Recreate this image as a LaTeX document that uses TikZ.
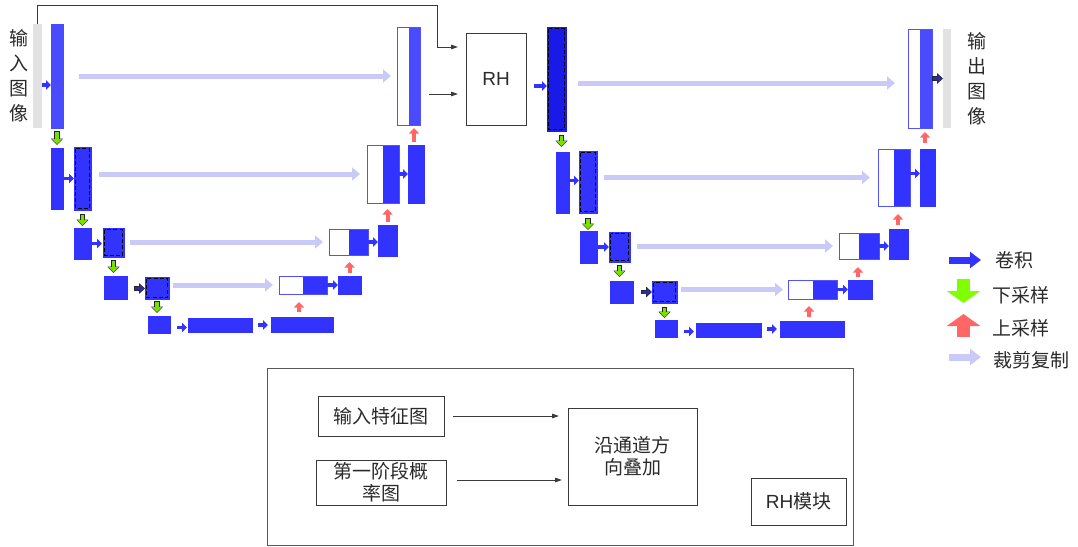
\documentclass[tikz,border=0pt]{standalone}
\usepackage{fontspec}
\newfontfamily\cjk{Noto Sans CJK SC}
\newfontfamily\lat{Liberation Sans}
\usetikzlibrary{arrows.meta,calc}
\definecolor{blu}{HTML}{3333FF}
\definecolor{blulight}{HTML}{4A4AFF}
\definecolor{bludark}{HTML}{1A1AE8}
\definecolor{navy}{HTML}{2C2CA8}
\definecolor{grn}{HTML}{77E000}
\definecolor{grnleg}{HTML}{80FF00}
\definecolor{redarr}{HTML}{FF6666}
\definecolor{cpy}{HTML}{CACAF8}
\definecolor{gbar}{HTML}{E2E2E2}
\definecolor{lnc}{HTML}{3A3A3A}
\definecolor{txt}{HTML}{2A2A2A}
\newcommand{\mkblk}[6]{\node[#6, minimum width={(#4-#2)*1pt}, minimum height={(#5-#3)*1pt}, anchor=north west] (#1) at (#2,#3) {};}
\tikzset{
  blk/.style={rectangle, inner sep=0pt, outer sep=0pt, fill=blu, draw=blu, line width=0.5pt},
  dblk/.style={blk, path picture={\draw[black, line width=0.8pt, dash pattern=on 4pt off 2.2pt]
     ([shift={(1.6pt,-1.6pt)}]path picture bounding box.north west) rectangle
     ([shift={(-1.6pt,1.6pt)}]path picture bounding box.south east);}},
  cblk/.style={rectangle, inner sep=0pt, outer sep=0pt, fill=white, draw=blu!85!white, line width=0.9pt,
     path picture={\fill[#1] (path picture bounding box.north) rectangle (path picture bounding box.south east);}},
  cblk/.default=blu,
  gbarsty/.style={rectangle, inner sep=0pt, outer sep=0pt, fill=gbar, draw=none},
  conv/.style={draw=blu, line width=3.8pt, -{Triangle[length=5pt,width=9.5pt]}},
  dconv/.style={draw=navy, line width=3pt, shorten >=0.9pt, shorten <=0.9pt, -{Triangle[length=4.5pt,width=8pt]},
     preaction={draw=black!85, line width=4.6pt, shorten >=0pt, shorten <=0pt, -{Triangle[length=6pt,width=10.5pt]}}},
  dnarr/.style={draw=grn, line width=3.6pt, shorten >=0.9pt, shorten <=0.9pt, -{Triangle[length=5pt,width=9.5pt]},
     preaction={draw=black!85, line width=5.2pt, shorten >=0pt, shorten <=0pt, -{Triangle[length=6.5pt,width=12pt]}}},
  uparr/.style={draw=redarr, line width=4pt, -{Triangle[length=5.5pt,width=10pt]}},
  cpyarr/.style={draw=cpy, line width=5pt, -{Triangle[length=8pt,width=13pt]}},
  ln/.style={draw=lnc, line width=0.8pt, -{Triangle[length=7pt,width=4.5pt]}},
  bx/.style={draw=lnc, line width=0.8pt, rectangle, inner sep=0pt, outer sep=0pt, fill=white, text=txt},
  lbl/.style={font=\cjk\fontsize{19}{25}\selectfont, text=txt, inner sep=0pt},
}
\begin{document}
\begin{tikzpicture}[x=1pt,y=-1pt]
\useasboundingbox (0,0) rectangle (1078,546);
% ---------- left U-net ----------
\mkblk{gL}{33}{24}{42}{128}{gbarsty}
\mkblk{L1a}{51}{24}{63}{128}{blk, fill=blulight, draw=blulight}
\mkblk{LC1}{397}{27}{420}{125}{cblk=blulight}
\mkblk{L2a}{51}{148}{63}{209}{blk}
\mkblk{L2b}{74}{147}{91}{210}{dblk}
\mkblk{LC2}{367}{145}{399}{203}{cblk}
\mkblk{L2c}{408}{145}{424}{203}{blk}
\mkblk{L3a}{74}{228}{91}{259}{blk}
\mkblk{L3b}{103}{228}{124}{257}{dblk}
\mkblk{LC3}{329}{229}{368}{255}{cblk}
\mkblk{L3c}{378}{225}{397}{256}{blk}
\mkblk{L4a}{104}{276}{127}{299}{blk}
\mkblk{L4b}{145}{277}{169}{299}{dblk}
\mkblk{LC4}{279}{276}{327}{294}{cblk}
\mkblk{L4c}{338}{276}{361}{294}{blk}
\mkblk{L5a}{148}{316}{170}{333}{blk}
\mkblk{L5b}{188}{318}{252}{332}{blk}
\mkblk{L5c}{271}{317}{333}{332}{blk}
% RH box
\node[bx, minimum width=60pt, minimum height=92pt, anchor=north west, font=\lat\fontsize{19}{22}\selectfont] (RH) at (466,33) {RH};
% ---------- right U-net ----------
\mkblk{R1a}{547}{27}{566}{131}{dblk, fill=bludark, draw=bludark}
\mkblk{RC1}{908}{29}{932}{128}{cblk=blulight}
\mkblk{gR}{943}{29}{951}{128}{gbarsty}
\mkblk{R2a}{556}{152}{569}{213}{blk}
\mkblk{R2b}{579}{151}{597}{213}{dblk}
\mkblk{RC2}{878}{149}{910}{206}{cblk}
\mkblk{R2c}{920}{149}{935}{206}{blk}
\mkblk{R3a}{580}{231}{597}{263}{blk}
\mkblk{R3b}{609}{232}{630}{262}{dblk}
\mkblk{RC3}{839}{233}{879}{259}{cblk}
\mkblk{R3c}{889}{229}{908}{259}{blk}
\mkblk{R4a}{610}{281}{633}{303}{blk}
\mkblk{R4b}{652}{281}{677}{303}{dblk}
\mkblk{RC4}{788}{280}{837}{299}{cblk}
\mkblk{R4c}{848}{280}{872}{299}{blk}
\mkblk{R5a}{655}{320}{677}{337}{blk}
\mkblk{R5b}{696}{323}{761}{337}{blk}
\mkblk{R5c}{780}{321}{844}{337}{blk}
% ---------- left arrows ----------
\draw[conv] ([yshift=-9pt]gL.east) -- ([yshift=-9pt]L1a.west);
\draw[cpyarr] ($(L1a.east)+(16,0)$) -- ($(LC1.west)+(-6,0)$);
\draw[dnarr] ($(L1a.south)+(0,3)$) -- ($(L2a.north)+(0,-3)$);
\draw[conv] (L2a.east) -- (L2a.east -| L2b.west);
\draw[cpyarr] ($(L2b.east |- LC2.west)+(8,0)$) -- ($(LC2.west)+(-7,0)$);
\draw[conv] (LC2.east) -- (LC2.east -| L2c.west);
\draw[uparr] ($(L2c.north)+(-2,-3)$) -- ($(L2c.north |- LC1.south)+(-2,3)$);
\draw[dnarr] ($(L2b.south)+(0,4)$) -- ($(L3a.north)+(0,-2)$);
\draw[conv] (L3a.east) -- ($(L3a.east -| L3b.west)+(-1,0)$);
\draw[cpyarr] ($(L3b.east |- LC3.west)+(6,0)$) -- ($(LC3.west)+(-6,0)$);
\draw[conv] (LC3.east) -- (LC3.east -| L3c.west);
\draw[uparr] ($(L3c.north)+(0,-3)$) -- ($(L3c.north |- LC2.south)+(0,6)$);
\draw[dnarr] ($(L3b.south)+(0,3)$) -- ($(L3b.south |- L4a.north)+(0,-3)$);
\draw[dconv] ($(L4a.east)+(7,1)$) -- ($(L4a.east -| L4b.west)+(0,1)$);
\draw[cpyarr] ($(L4b.east |- LC4.west)+(4,0)$) -- ($(LC4.west)+(-6,0)$);
\draw[conv] (LC4.east) -- (LC4.east -| L4c.west);
\draw[uparr] ($(L4c.north)+(0,-3)$) -- ($(L4c.north |- LC3.south)+(0,7)$);
\draw[dnarr] ($(L4b.south)+(0,2)$) -- ($(L4b.south |- L5a.north)+(0,-3)$);
\draw[conv] ($(L5a.east)+(7,3)$) -- ($(L5a.east -| L5b.west)+(-1,3)$);
\draw[conv] ($(L5b.east)+(6,0)$) -- ($(L5b.east -| L5c.west)+(-3,0)$);
\draw[uparr] ($(L5c.north)+(-3,-5)$) -- ($(L5c.north |- LC4.south)+(-3,8)$);
% feedback lines into RH
\coordinate (fbk) at (437,5);
\coordinate (rhin1) at ([yshift=32pt]RH.west);
\coordinate (rhin2) at ([yshift=-15pt]RH.west);
\draw[ln, shorten >=8pt] (gL.north) |- (fbk) |- (rhin1);
\draw[ln, shorten <=9pt, shorten >=8pt] (LC1.east |- rhin2) -- (rhin2);
% ---------- right arrows ----------
\draw[conv] ($(RH.east)+(8,7)$) -- ($(RH.east -| R1a.west)+(0,7)$);
\draw[cpyarr] ($(R1a.east)+(12,4)$) -- ($(R1a.east -| RC1.west)+(-13,4)$);
\draw[dconv] (RC1.east) -- (RC1.east -| gR.west);
\draw[dnarr] ($(R1a.south -| R2a.north)+(-1,4)$) -- ($(R2a.north)+(-1,-5)$);
\draw[conv] ($(R2a.east)+(0,-2)$) -- ($(R2a.east -| R2b.west)+(0,-2)$);
\draw[cpyarr] ($(R2b.east |- RC2.west)+(7,0)$) -- ($(RC2.west)+(-8,0)$);
\draw[conv] ($(RC2.east)+(0,-4)$) -- ($(RC2.east -| R2c.west)+(0,-4)$);
\draw[uparr] ($(R2c.north)+(-2.5,-6)$) -- ($(R2c.north |- RC1.south)+(-2.5,4)$);
\draw[dnarr] ($(R2b.south)+(0,5)$) -- ($(R2b.south |- R3a.north)+(0,-1)$);
\draw[conv] (R3a.east) -- (R3a.east -| R3b.west);
\draw[cpyarr] ($(R3b.east |- RC3.west)+(7,0)$) -- ($(RC3.west)+(-6,0)$);
\draw[conv] (RC3.east) -- (RC3.east -| R3c.west);
\draw[uparr] ($(R3c.north)+(-0.5,-4)$) -- ($(R3c.north |- RC2.south)+(-0.5,8)$);
\draw[dnarr] ($(R3b.south)+(0,3)$) -- ($(R3b.south |- R4a.north)+(0,-4)$);
\draw[dconv] ($(R4a.east)+(8,0)$) -- (R4a.east -| R4b.west);
\draw[cpyarr] ($(R4b.east |- RC4.west)+(4,0)$) -- ($(RC4.west)+(-5,0)$);
\draw[conv] (RC4.east) -- (RC4.east -| R4c.west);
\draw[uparr] ($(R4c.north)+(-2,-3)$) -- ($(R4c.north |- RC3.south)+(-2,8)$);
\draw[dnarr] ($(R4b.south)+(0,4)$) -- ($(R4b.south |- R5a.north)+(0,-2)$);
\draw[conv] ($(R5a.east)+(7,3)$) -- ($(R5a.east -| R5b.west)+(-2,3)$);
\draw[conv] ($(R5b.east)+(6,-1)$) -- ($(R5b.east -| R5c.west)+(-3,-1)$);
\draw[uparr] ($(R5c.north)+(-3,-4)$) -- ($(R5c.north |- RC4.south)+(-3,7)$);
% ---------- side labels ----------
\node[lbl, align=center] (tin) at (19,76) {输\\入\\图\\像};
\node[lbl, align=center] (tout) at (977,79) {输\\出\\图\\像};
% ---------- legend ----------
\coordinate (lg1a) at (949,260); \coordinate (lg1b) at (981,260);
\coordinate (lg2a) at (963.5,279); \coordinate (lg2b) at (963.5,303);
\coordinate (lg3a) at (963.5,337); \coordinate (lg3b) at (963.5,314);
\coordinate (lg4a) at (949,357); \coordinate (lg4b) at (981,357);
\draw[draw=blu, line width=7pt, -{Triangle[length=11pt,width=16pt]}] (lg1a) -- (lg1b);
\draw[draw=grnleg, line width=13pt, -{Triangle[length=12pt,width=33pt]}] (lg2a) -- (lg2b);
\draw[draw=redarr, line width=13pt, -{Triangle[length=12pt,width=33pt]}] (lg3a) -- (lg3b);
\draw[draw=cpy, line width=7pt, -{Triangle[length=11pt,width=16pt]}] (lg4a) -- (lg4b);
\node[lbl, anchor=west] (lt1) at (995,260) {卷积};
\node[lbl, anchor=west] (lt2) at (992,295) {下采样};
\node[lbl, anchor=west] (lt3) at (992,328) {上采样};
\node[lbl, anchor=west] (lt4) at (993,360) {裁剪复制};
% ---------- RH module detail ----------
\node[bx, draw=lnc!85, minimum width=586pt, minimum height=177pt, anchor=north west] (frame) at (267,368) {};
\node[bx, minimum width=126pt, minimum height=40pt, anchor=north west, font=\cjk\fontsize{19}{22}\selectfont] (n1) at (318,396) {输入特征图};
\node[bx, minimum width=130pt, minimum height=45pt, anchor=north west, align=center, font=\cjk\fontsize{19}{22}\selectfont] (n2) at (316,460) {第一阶段概\\率图};
\node[bx, minimum width=129pt, minimum height=97pt, anchor=north west, align=center, font=\cjk\fontsize{19}{22}\selectfont] (n3) at (568,408) {沿通道方\\向叠加};
\node[bx, minimum width=95pt, minimum height=47pt, anchor=north west, font=\cjk\fontsize{19}{22}\selectfont] (n4) at (751,478) {{\lat RH}模块};
\draw[ln, shorten <=9pt, shorten >=9pt] (n1.east) -- (n1.east -| n3.west);
\draw[ln, shorten <=11pt, shorten >=6pt] ([yshift=2.5pt]n2.east) -- ([yshift=2.5pt]n2.east -| n3.west);
\end{tikzpicture}
\end{document}
